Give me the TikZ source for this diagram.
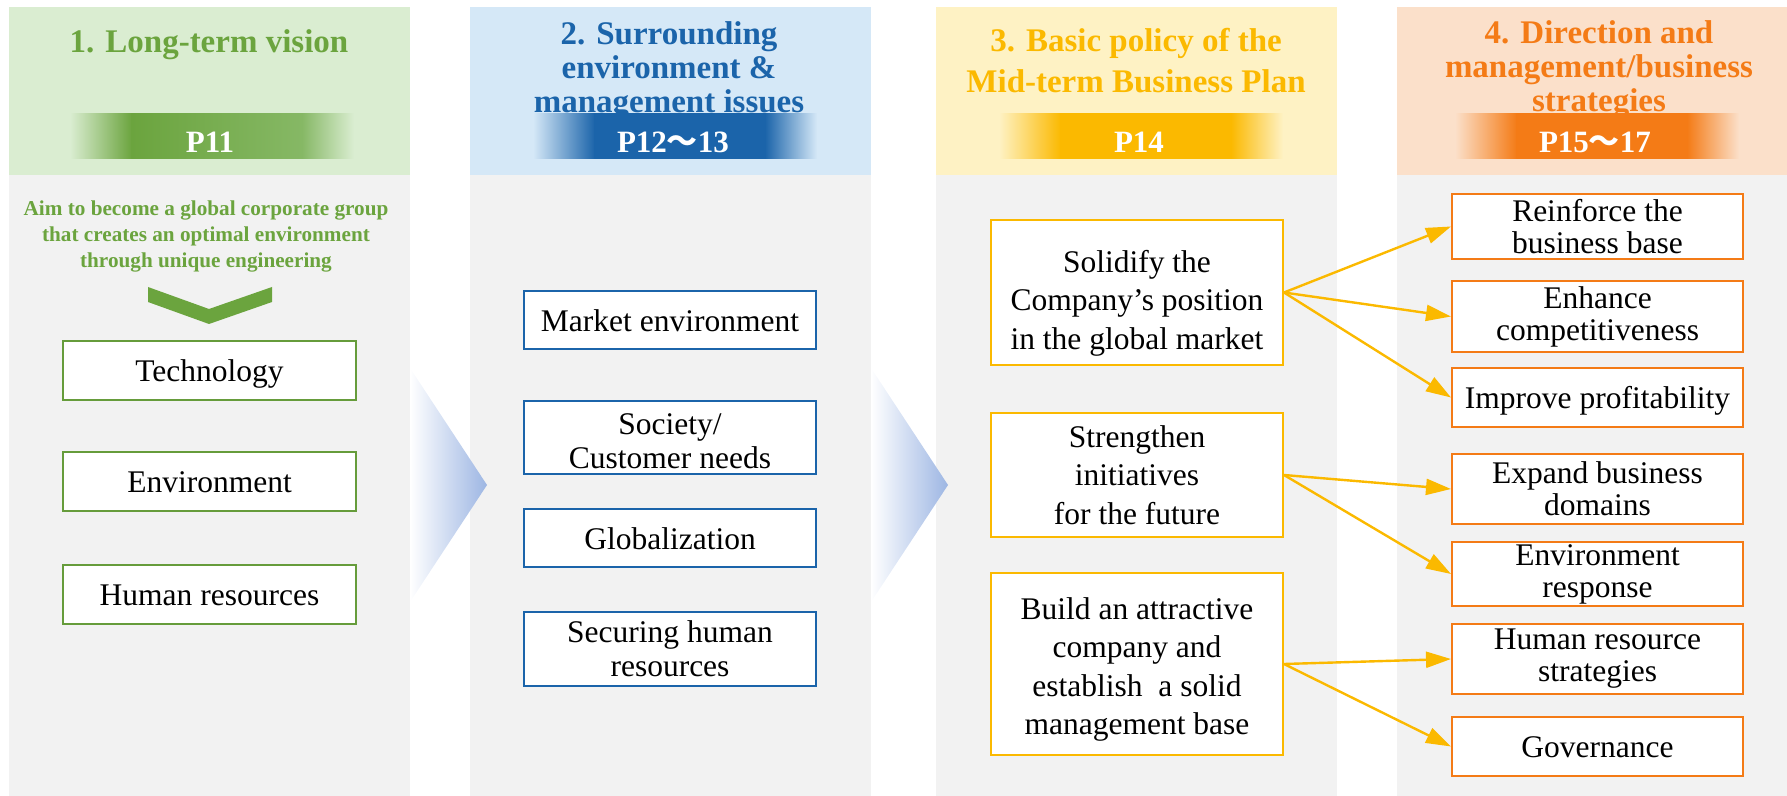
\documentclass[tikz,border=0pt]{standalone}
\usepackage{fontspec}
\setmainfont{Liberation Serif}
\newfontfamily\cjk{Noto Sans CJK JP}
\usetikzlibrary{positioning,arrows.meta}

\definecolor{greenc}{HTML}{6BA43E}
\definecolor{greenlt}{HTML}{86B865}
\definecolor{greenbg}{HTML}{DAEDD1}
\definecolor{bluec}{HTML}{1B64AA}
\definecolor{bluebg}{HTML}{D5E8F7}
\definecolor{yellowc}{HTML}{FBB900}
\definecolor{yellowbg}{HTML}{FEF2C4}
\definecolor{orangec}{HTML}{F47B16}
\definecolor{orangebg}{HTML}{FBE0CA}
\definecolor{panel}{HTML}{F2F2F2}
\definecolor{flow}{HTML}{9DB6E3}

\begin{document}
\begin{tikzpicture}[x=0.5pt, y=-0.5pt,
  title/.style={align=center, font=\fontsize{16.5}{17}\selectfont\bfseries},
  ptext/.style={anchor=base, text=white, font=\fontsize{15.5}{18}\selectfont\bfseries},
  box/.style={draw, fill=white, line width=1pt, align=center, inner sep=0pt,
    font=\fontsize{15.75}{17}\selectfont},
  oneline/.style={text height=1.12em, text depth=0pt},
  gbox/.style={box, draw=greenc!95!black, minimum width=146.5pt, minimum height=29.5pt, oneline},
  bbox/.style={box, draw=bluec, minimum width=146pt},
  ybox/.style={box, draw=yellowc, minimum width=146pt,
    font=\fontsize{15.75}{19.25}\selectfont},
  obox/.style={box, draw=orangec, minimum width=145.5pt,
    font=\fontsize{15.75}{16}\selectfont},
  link/.style={-{Triangle[length=12.5pt, width=8pt]}, yellowc, line width=1.2pt}]

\useasboundingbox (0,0) rectangle (1787,796);

% column panels
\foreach \x/\c in {9/green, 470/blue, 936/yellow, 1397/orange} {
  \fill[\c bg] (\x,7) rectangle ++(401,168);
  \fill[panel] (\x,175) rectangle ++(401,621);
}

% flow chevrons between the columns
\shade[left color=white, right color=flow] (410,368) -- (487,485) -- (410,602) -- cycle;
\shade[left color=white, right color=flow] (871,368) -- (948,485) -- (871,602) -- cycle;

% column titles
\node[title, text=greenc] (t1) at (209,45) {1. Long-term vision};
\node[title, text=bluec] (t2) at (669,71)
  {2. Surrounding\\environment \&\\management issues};
\node[title, text=yellowc, font=\fontsize{16.5}{20.5}\selectfont\bfseries] (t3) at (1136,61)
  {3. Basic policy of the\\Mid-term Business Plan};
\node[title, text=orangec] (t4) at (1599,70)
  {4. Direction and\\management/business\\strategies};

% page bars
\foreach \m/\c/\r/\p [count=\i] in {212/green/greenlt/P11, 675/blue/bluec/{P12{\cjk ～}13},
    1141/yellow/yellowc/P14, 1597/orange/orangec/{P15{\cjk ～}17}} {
  \shade[left color=\c bg, right color=\c c] (\m-142,114) rectangle (\m-80,159);
  \shade[left color=\c c, right color=\r] (\m-80.5,114) rectangle (\m+90.5,159);
  \shade[left color=\r, right color=\c bg] (\m+90,114) rectangle (\m+142,159);
  \node[ptext] (p\i) at (\m-2,153) {\p};
}

% long-term vision
\node[align=center, text=greenc, font=\fontsize{10.6}{13}\selectfont\bfseries] (aim) at (206,236)
  {Aim to become a global corporate group\\that creates an optimal environment\\through unique engineering};
\fill[greenc] (148,287) -- (209,309) -- (272,287) -- (272,302) -- (209,324) -- (148,302) -- cycle;

\node[gbox] (tech) at (209.5,370.5) {Technology};
\node[gbox, below=25pt of tech] (env) {Environment};
\node[gbox, below=26pt of env] (hr) {Human resources};

% environment and issues
\node[bbox, minimum height=29pt, oneline] (market) at (670,320) {Market environment};
\node[bbox, minimum height=36.5pt, below=25pt of market] (society) {\rule{0pt}{0.9em}Society/\\Customer needs};
\node[bbox, minimum height=29pt, oneline, below=16.5pt of society] (global) {Globalization};
\node[bbox, minimum height=37pt, below=21.5pt of global] (hrsec) {Securing human\\resources};

% basic policy
\node[ybox, minimum height=72.5pt] (solid) at (1137,292.5)
  {\rule{0pt}{1.38em}Solidify the\\Company's position\\in the global market};
\node[ybox, minimum height=62pt, below=23pt of solid] (future)
  {Strengthen\\initiatives\\for the future};
\node[ybox, minimum height=91pt, below=17pt of future] (base)
  {\rule{0pt}{1.05em}Build an attractive\\company and\\establish\ \ a solid\\management base};

% strategies
\node[obox, minimum height=32.5pt] (reinforce) at (1597.5,226.5) {Reinforce the\\business base};
\node[obox, minimum height=35.5pt, below=10pt of reinforce] (enhance) {Enhance\\competitiveness};
\node[obox, minimum height=29.5pt, oneline, below=7pt of enhance] (profit) {Improve profitability};
\node[obox, minimum height=35pt, below=12.5pt of profit] (expand) {Expand business\\domains};
\node[obox, minimum height=32pt, below=8pt of expand] (envresp) {Environment\\response};
\node[obox, minimum height=35pt, below=8pt of envresp] (hrstrat) {Human resource\\strategies};
\node[obox, minimum height=29.5pt, oneline, below=10.5pt of hrstrat] (gov) {Governance};

% policy to strategy links
\draw[link] (solid.east) -- (reinforce.west);
\draw[link] (solid.east) -- (enhance.west);
\draw[link] (solid.east) -- (profit.west);
\draw[link] (future.east) -- (expand.west);
\draw[link] (future.east) -- (envresp.west);
\draw[link] (base.east) -- (hrstrat.west);
\draw[link] (base.east) -- (gov.west);

\end{tikzpicture}
\end{document}
